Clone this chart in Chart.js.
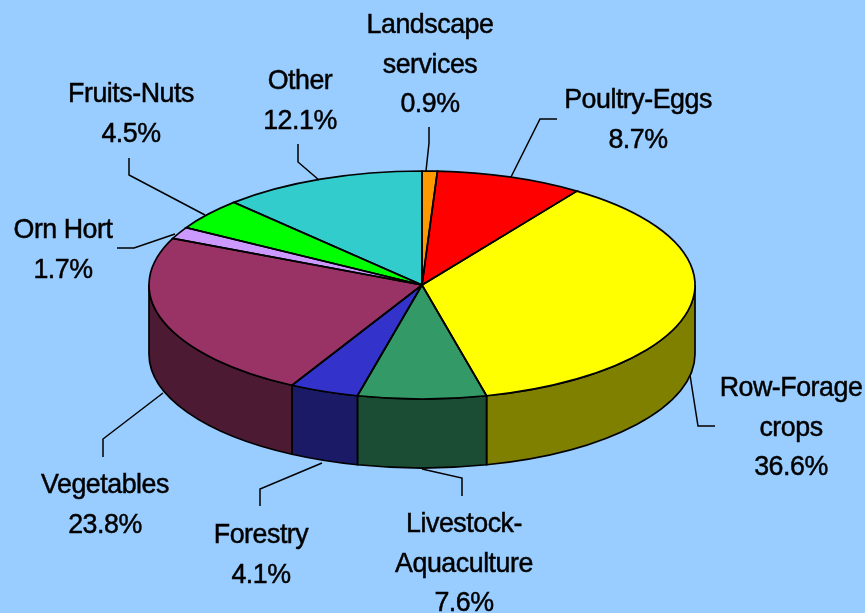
<!DOCTYPE html>
<html>
<head>
<meta charset="utf-8">
<title>Sales by category</title>
<style>
  html, body { margin: 0; padding: 0; background: #99ccff; }
  canvas { display: block; }
</style>
</head>
<body>
<canvas id="pie_chart" width="865" height="613"></canvas>
<script src="https://cdn.jsdelivr.net/npm/chart.js@4/dist/chart.umd.js"></script>
<script>
// clockwise from 12 o'clock
var categories = ['Landscape services', 'Poultry-Eggs', 'Row-Forage crops', 'Livestock-Aquaculture', 'Forestry', 'Vegetables', 'Orn Hort', 'Fruits-Nuts', 'Other'];
var shares = [0.9, 8.7, 36.6, 7.6, 4.1, 23.8, 1.7, 4.5, 12.1];
var topColors = ['#ff9900', '#ff0000', '#ffff00', '#339966', '#3333cc', '#993366', '#cc99ff', '#00ff00', '#33cccc'];
var wallColors = ['#804d00', '#800000', '#808000', '#1a4d33', '#1a1a66', '#4d1a33', '#664d80', '#008000', '#1a6666'];

// label text lines, centre x and baselines
var labelLines = [['Landscape', 'services'], ['Poultry-Eggs'], ['Row-Forage', 'crops'], ['Livestock-', 'Aquaculture'], ['Forestry'], ['Vegetables'], ['Orn Hort'], ['Fruits-Nuts'], ['Other']];
var labelX = [430, 638, 791, 464, 261, 105, 63, 131, 300];
var labelY = [33, 108, 396, 532, 543, 493, 238, 102, 89];
var leaders = [
    [[429, 127], [429, 143], [426, 171]],
    [[557, 119], [540, 119], [511, 177]],
    [[715, 426], [698, 426], [690, 375]],
    [[462, 496], [462, 478], [422, 469]],
    [[260, 506], [260, 489], [322, 463]],
    [[103, 457], [103, 439], [163, 393]],
    [[117, 248], [134, 248], [175, 234]],
    [[129, 158], [129, 175], [205, 215]],
    [[298, 144], [298, 162], [319, 180]]
];

var cx = 422, cy = 285, rx = 273, ry = 114, depth = 69;

var tiltPlugin = {
    id: 'tilt',
    beforeDatasetsDraw: function (chart) {
        var ctx = chart.ctx;
        var arcs = chart.getDatasetMeta(0).data;
        // side walls, only the front half of the ellipse shows
        arcs.forEach(function (arc, i) {
            var a = Math.max(arc.startAngle, 0);
            var b = Math.min(arc.endAngle, Math.PI);
            if (b <= a) return;
            ctx.beginPath();
            ctx.ellipse(cx, cy, rx, ry, 0, a, b);
            ctx.ellipse(cx, cy + depth, rx, ry, 0, b, a, true);
            ctx.closePath();
            ctx.fillStyle = wallColors[i];
            ctx.fill();
            ctx.lineWidth = 1.7;
            ctx.strokeStyle = '#000';
            ctx.stroke();
        });
        // squash the round pie into the top face
        ctx.save();
        ctx.translate(cx, cy);
        ctx.scale(1, ry / rx);
        ctx.translate(-arcs[0].x, -arcs[0].y);
    },
    afterDatasetsDraw: function (chart) {
        var ctx = chart.ctx;
        ctx.restore();
        ctx.lineWidth = 1.7;
        ctx.strokeStyle = '#000';
        chart.getDatasetMeta(0).data.forEach(function (arc) {
            ctx.beginPath();
            ctx.moveTo(cx, cy);
            ctx.ellipse(cx, cy, rx, ry, 0, arc.startAngle, arc.endAngle);
            ctx.closePath();
            ctx.stroke();
        });
    },
    afterDraw: function (chart) {
        var ctx = chart.ctx;
        ctx.save();
        ctx.lineWidth = 1.5;
        ctx.strokeStyle = '#000';
        leaders.forEach(function (pts) {
            ctx.beginPath();
            ctx.moveTo(pts[0][0], pts[0][1]);
            ctx.lineTo(pts[1][0], pts[1][1]);
            ctx.lineTo(pts[2][0], pts[2][1]);
            ctx.stroke();
        });
        ctx.fillStyle = '#000';
        ctx.lineWidth = 0.5;
        ctx.font = '28.5px "Liberation Sans"';
        ctx.letterSpacing = '-0.5px';
        ctx.textAlign = 'center';
        ctx.textBaseline = 'alphabetic';
        categories.forEach(function (name, i) {
            var lines = labelLines[i].concat([shares[i].toFixed(1) + '%']);
            lines.forEach(function (txt, j) {
                // reference type is a bit narrower than Liberation Sans
                ctx.save();
                ctx.translate(labelX[i], labelY[i] + j * 39.5);
                ctx.scale(0.94, 1);
                ctx.fillText(txt, 0, 0);
                ctx.strokeText(txt, 0, 0);
                ctx.restore();
            });
        });
        ctx.restore();
    }
};

var ctx = document.getElementById('pie_chart').getContext('2d');
var pieChart = new Chart(ctx, {
    type: 'pie',
    data: {
        labels: categories,
        datasets: [{
            data: shares,
            backgroundColor: topColors,
            borderWidth: 0
        }]
    },
    options: {
        responsive: false,
        animation: false,
        devicePixelRatio: 1,
        radius: rx,
        layout: { padding: 0 },
        plugins: {
            legend: { display: false },
            tooltip: { enabled: false }
        }
    },
    plugins: [tiltPlugin]
});
</script>
</body>
</html>
